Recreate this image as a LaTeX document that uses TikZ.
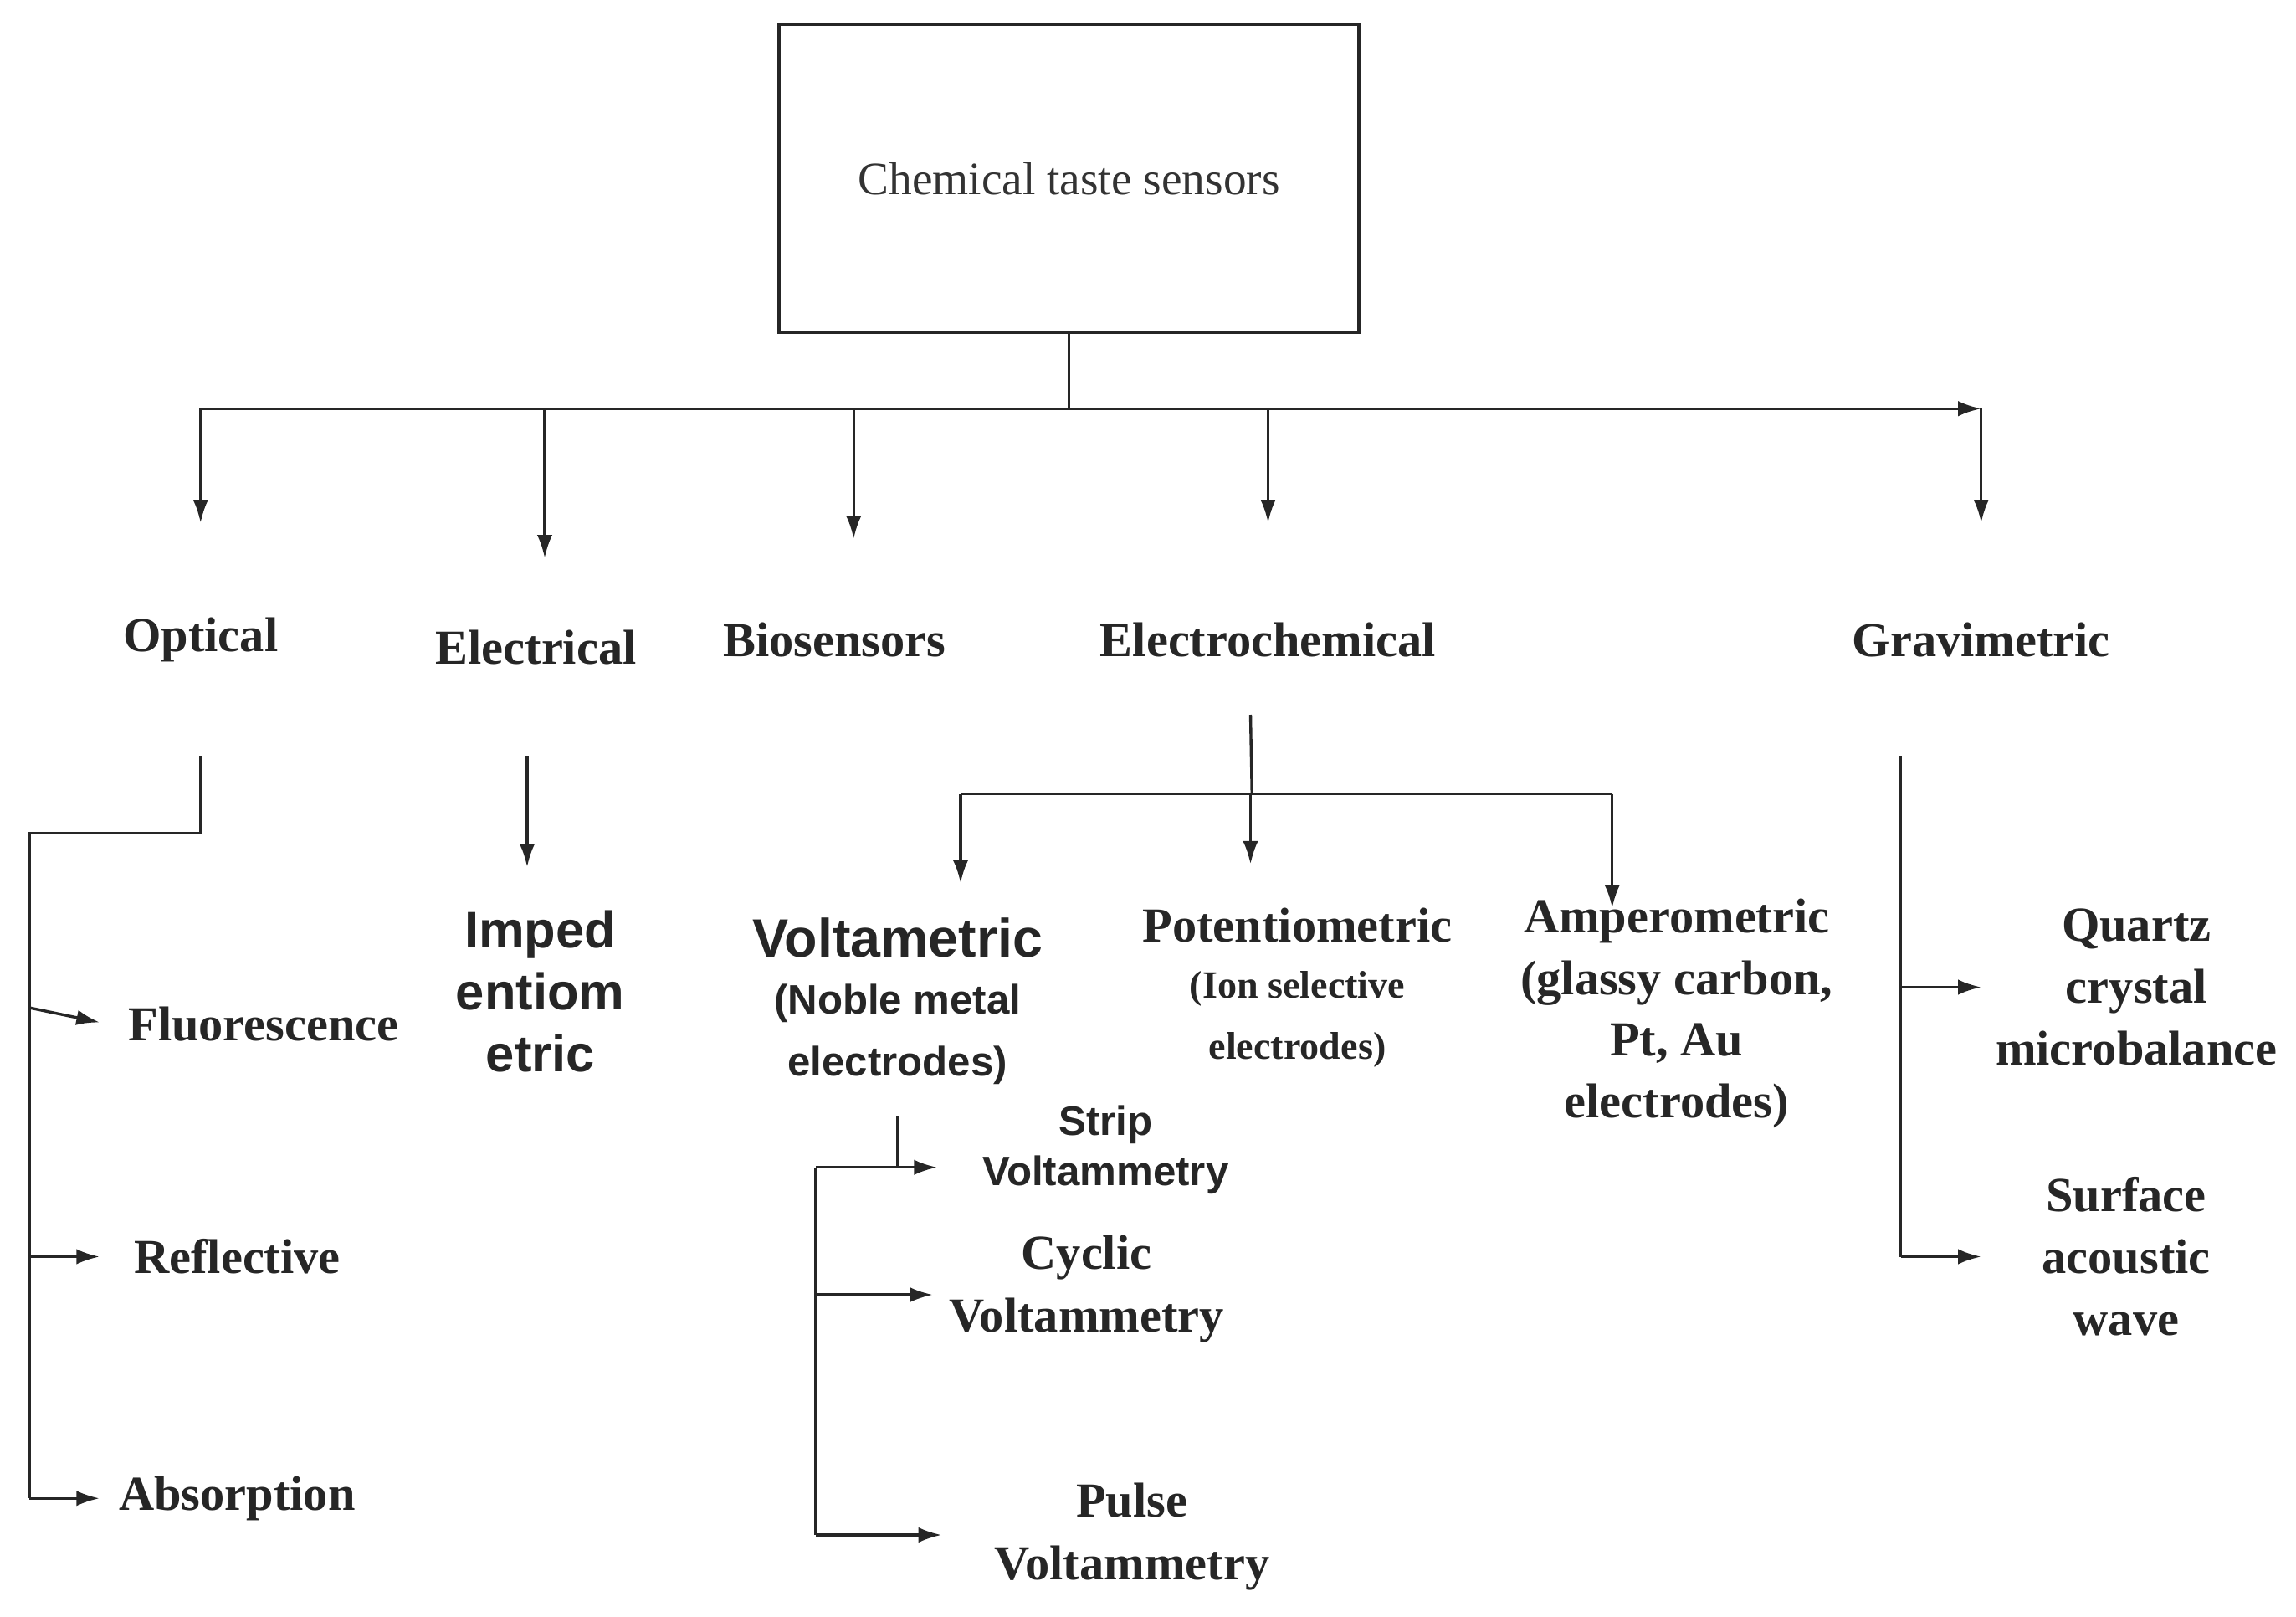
\documentclass[tikz,border=0pt]{standalone}
\usepackage{fontspec}
\setmainfont{Liberation Serif}
\newfontfamily\arialf{Liberation Sans}
\usetikzlibrary{arrows.meta}
\begin{document}
\begin{tikzpicture}[x=0.02cm,y=-0.02cm,
  ln/.style={line width=1.1pt,draw=black!85},
  ar/.style={ln,-{Latex[length=9pt,width=6pt]}},
  sb/.style={font=\fontsize{19}{24}\selectfont\bfseries,align=center,text=black!85,inner sep=0},
  ab/.style={font=\arialf\fontsize{19}{24}\selectfont\bfseries,align=center,text=black!85,inner sep=0},
  sm/.style={font=\arialf\fontsize{15}{21}\selectfont\bfseries,align=center,text=black!85,inner sep=0}]
\useasboundingbox (0,0) rectangle (1568,1104);
\node[draw=black!85,line width=1.1pt,minimum width=7.92cm,minimum height=4.2cm,font=\fontsize{18}{22}\selectfont,text=black!80] (root) at (730,122) {Chemical taste sensors};
% main branches
\coordinate (j) at (730,279);
\coordinate (l) at (137,279);
\coordinate (r) at (1353,279);
\draw[ln] (root.south) -- (j);
\draw[ar] (l) -- (r);
\draw[ln] (l) -- (j);
\draw[ar] (l) -- (137,357);
\draw[ar] (372,279) -- (372,381);
\draw[ar] (583,279) -- (583,368);
\draw[ar] (866,279) -- (866,357);
\draw[ar] (r) -- (1353,357);
\node[sb] (opt) at (137,437) {Optical};
\node[sb] (ele) at (366,442) {Electrical};
\node[sb] (bio) at (570,437) {Biosensors};
\node[sb] (ech) at (866,437) {Electrochemical};
\node[sb] (gra) at (1353,437) {Gravimetric};
% optical
\draw[ln] (137,516) -- (137,569) -- (20,569) -- (20,1023);
\draw[ar] (20,688) -- (68,698);
\draw[ar] (20,858) -- (68,858);
\draw[ar] (20,1023) -- (68,1023);
\node[sb] (flu) at (180,699) {Fluorescence};
\node[sb] (ref) at (162,858) {Reflective};
\node[sb] (abs) at (162,1023) {Absorption};
% electrical
\draw[ar] (360,516) -- (360,592);
\node[ab,font=\arialf\fontsize{20}{24}\selectfont\bfseries] (imp) at (369,677) {Imped\\entiom\\etric};
% electrochemical
\draw[ln] (854,488) -- (855,542);
\draw[ln] (656,542) -- (1101,542);
\draw[ar] (656,542) -- (656,603);
\draw[ar] (854,542) -- (854,590);
\draw[ar] (1101,542) -- (1101,620);
\node[ab,font=\arialf\fontsize{21}{24}\selectfont\bfseries] (vol) at (613,640) {Voltametric};
\node[sm,font=\arialf\fontsize{16}{24}\selectfont\bfseries] (vol2) at (613,706) {(Noble metal\\electrodes)};
\node[sb] (pot) at (886,632) {Potentiometric};
\node[sb,font=\fontsize{15}{24}\selectfont\bfseries] (pot2) at (886,696) {(Ion selective\\electrodes)};
\node[sb,font=\fontsize{19}{24}\selectfont\bfseries] (amp) at (1145,692) {Amperometric\\(glassy carbon,\\Pt, Au\\electrodes)};
% voltametric sub
\draw[ln] (613,762) -- (613,797);
\draw[ar] (557,797) -- (640,797);
\draw[ln] (557,797) -- (557,1048);
\draw[ar] (557,884) -- (637,884);
\draw[ar] (557,1048) -- (643,1048);
\node[sm,font=\arialf\fontsize{16}{19.5}\selectfont\bfseries] (str) at (755,785) {Strip\\Voltammetry};
\node[sb,font=\fontsize{19}{24.5}\selectfont\bfseries] (cyc) at (742,880) {Cyclic\\Voltammetry};
\node[sb,font=\fontsize{19}{24.5}\selectfont\bfseries] (pul) at (773,1049) {Pulse\\Voltammetry};
% gravimetric
\draw[ln] (1298,516) -- (1298,858);
\draw[ar] (1298,674) -- (1353,674);
\draw[ar] (1298,858) -- (1353,858);
\node[sb,font=\fontsize{19}{24}\selectfont\bfseries] (qcm) at (1459,674) {Quartz\\crystal\\microbalance};
\node[sb,font=\fontsize{19}{24}\selectfont\bfseries] (saw) at (1452,858) {Surface\\acoustic\\wave};
\end{tikzpicture}
\end{document}
